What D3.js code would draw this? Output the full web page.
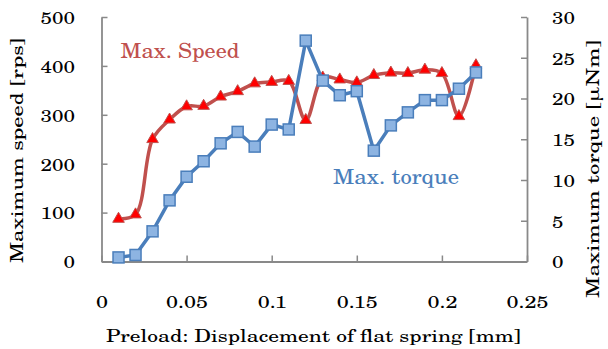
<!DOCTYPE html>
<html><head><meta charset="utf-8">
<script src="https://cdn.jsdelivr.net/npm/d3@7"></script>
<style>body{margin:0;background:#fff}</style>
</head><body><svg id="c" width="608" height="349"></svg>
<script>
const preload = [0.01,0.02,0.03,0.04,0.05,0.06,0.07,0.08,0.09,0.10,0.11,0.12,0.13,0.14,0.15,0.16,0.17,0.18,0.19,0.20,0.21,0.22];
const speed = [87,96,250,290,317,318,337,348,364,367,369,289,376,372,366,381,386,385,392,385,297,401];
const torque = [0.5,0.8,3.7,7.5,10.4,12.3,14.5,15.9,14.1,16.8,16.2,27.1,22.2,20.4,20.9,13.6,16.7,18.3,19.8,19.8,21.2,23.2];
const xTicks = [0,0.05,0.1,0.15,0.2,0.25];
const xTickLabels = ["0","0.05","0.1","0.15","0.2","0.25"];
const speedTicks = [0,100,200,300,400,500];
const torqueTicks = [0,5,10,15,20,25,30];

const FONT = '"TeX Gyre Schola","Century Schoolbook","Noto Serif",serif';
const svg = d3.select("#c");
const L = 101.5, R = 527, T = 17, B = 261.5;
const x = d3.scaleLinear().domain([0,0.25]).range([L,R]);
const yS = d3.scaleLinear().domain([0,500]).range([B,T]);
const yT = d3.scaleLinear().domain([0,30]).range([B,T]);
const axisCol = "#898989";

function stretch(sel, refNode, refWidth){
  const ratio = refWidth / refNode.getComputedTextLength();
  sel.each(function(){
    const w = this.getComputedTextLength();
    d3.select(this).attr("textLength", w*ratio).attr("lengthAdjust","spacingAndGlyphs");
  });
}

const gx = svg.append("g").attr("transform",`translate(0,${B})`)
  .call(d3.axisBottom(x).tickValues(xTicks).tickFormat((d,i)=>xTickLabels[i]).tickSizeInner(-6).tickSizeOuter(0));
const gl = svg.append("g").attr("transform",`translate(${L},0)`)
  .call(d3.axisLeft(yS).tickValues(speedTicks).tickSizeInner(-6).tickSizeOuter(0).tickPadding(26.5));
const gr = svg.append("g").attr("transform",`translate(${R},0)`)
  .call(d3.axisRight(yT).tickValues(torqueTicks).tickSizeInner(-6).tickSizeOuter(0).tickPadding(25));
[gx,gl,gr].forEach(g=>{
  g.attr("font-family",FONT).attr("font-size",17.5);
  g.selectAll("path.domain").attr("stroke",axisCol).attr("stroke-width",1.8);
  g.selectAll(".tick line").attr("stroke",axisCol).attr("stroke-width",1.5);
  g.selectAll("text").attr("fill","#000");
});
gx.selectAll("text").attr("y",46.5).attr("dy","0");
gl.selectAll("text").attr("dy","0.36em");
gr.selectAll("text").attr("dy","0.36em");
stretch(gl.selectAll("text"), gl.selectAll("text").nodes()[5], 34.5);
stretch(gr.selectAll("text"), gr.selectAll("text").nodes()[6], 23);
stretch(gx.selectAll("text"), gx.selectAll("text").nodes()[1], 42);

const curve = d3.curveCatmullRom.alpha(0.5);
svg.append("path").datum(preload.map((p,i)=>[p,speed[i]]))
  .attr("d", d3.line().x(d=>x(d[0])).y(d=>yS(d[1])).curve(curve))
  .attr("fill","none").attr("stroke","#C0504D").attr("stroke-width",3.5);
const tri = d3.symbol().type(d3.symbolTriangle).size(58);
svg.append("g").selectAll("path").data(preload).join("path")
  .attr("d", tri).attr("transform",(d,i)=>`translate(${x(d)},${yS(speed[i])})`)
  .attr("fill","#FF0000").attr("stroke","#C0504D").attr("stroke-width",1);

svg.append("path").datum(preload.map((p,i)=>[p,torque[i]]))
  .attr("d", d3.line().x(d=>x(d[0])).y(d=>yT(d[1])).curve(d3.curveLinear))
  .attr("fill","none").attr("stroke","#4A7EBB").attr("stroke-width",3.5);
svg.append("g").selectAll("rect").data(preload).join("rect")
  .attr("x",d=>x(d)-5.5).attr("y",(d,i)=>yT(torque[i])-5.5).attr("width",11).attr("height",11)
  .attr("fill","#8DB4E2").attr("stroke","#4A7EBB").attr("stroke-width",1.5);

function label(txt, width, attrs){
  const t = svg.append("text").text(txt).attr("font-family",FONT);
  Object.entries(attrs).forEach(([k,v])=>t.attr(k,v));
  t.attr("textLength",width).attr("lengthAdjust","spacingAndGlyphs");
  return t;
}
label("Max. Speed",119,{x:120.5,y:58.3,fill:"#C0504D","font-size":20});
label("Max. torque",126,{x:333,y:183.5,fill:"#4A7EBB","font-size":20});
label("Preload: Displacement of flat spring [mm]",415,{x:106,y:341.5,fill:"#000","font-size":17.5});
label("Maximum speed [rps]",225,{transform:"translate(23,263) rotate(-90)",fill:"#000","font-size":17.5});
label("Maximum torque [μNm]",258,{transform:"translate(599,298) rotate(-90)",fill:"#000","font-size":17.5});
</script></body></html>
